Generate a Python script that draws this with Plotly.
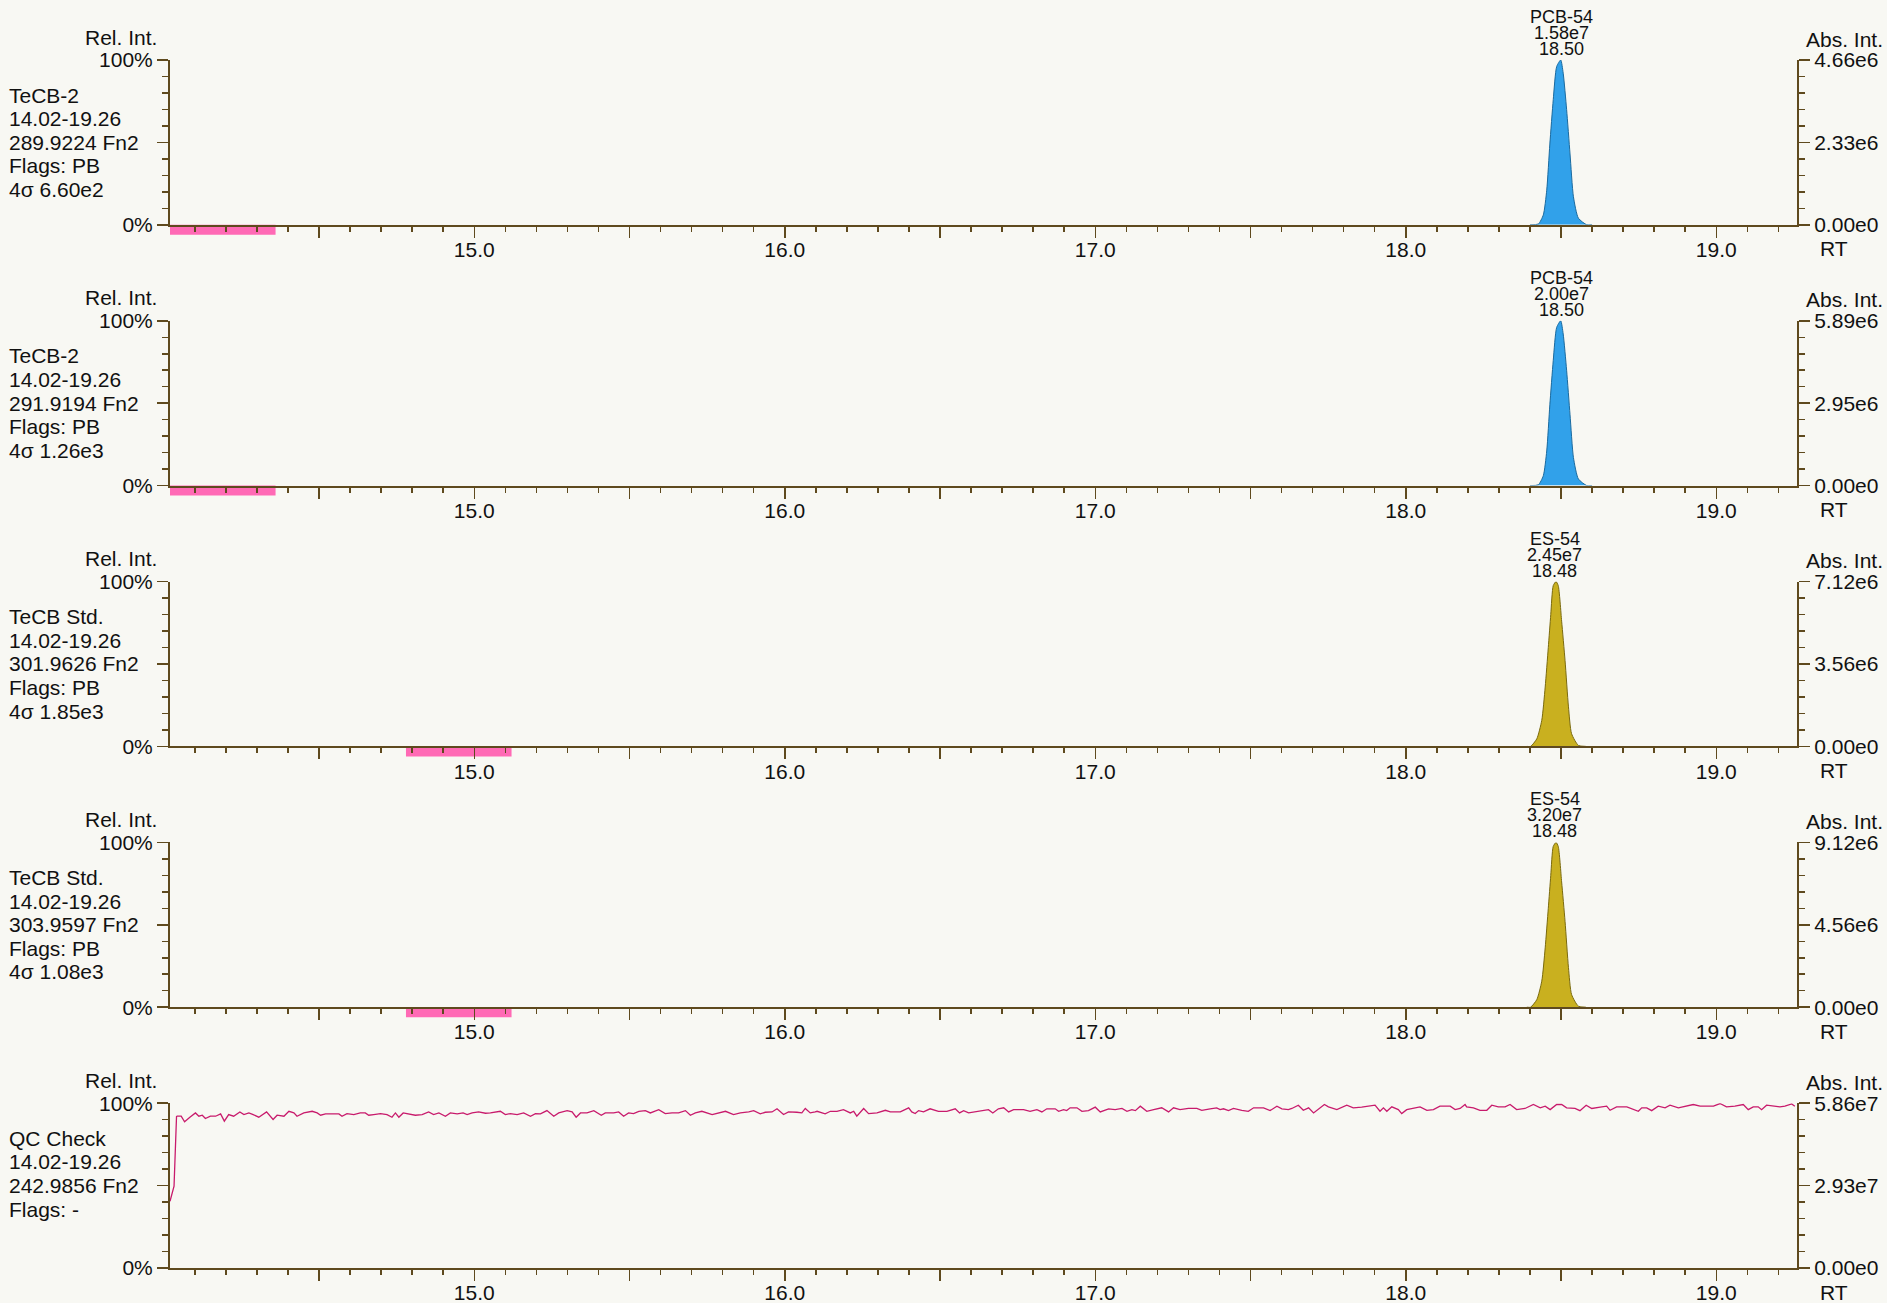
import plotly.graph_objects as go

# ---------------- data ----------------
RT_MIN, RT_MAX = 14.02, 19.26

x_tickvals = [14.5, 15.0, 15.5, 16.0, 16.5, 17.0, 17.5, 18.0, 18.5, 19.0]
x_ticktext = ["", "15.0", "", "16.0", "", "17.0", "", "18.0", "", "19.0"]

rel_tickvals = [0, 50, 100]
rel_ticktext = ["0%", "", "100%"]

panel_name = ["TeCB-2", "TeCB-2", "TeCB Std.", "TeCB Std.", "QC Check"]
panel_window = ["14.02-19.26", "14.02-19.26", "14.02-19.26", "14.02-19.26", "14.02-19.26"]
panel_mass = ["289.9224 Fn2", "291.9194 Fn2", "301.9626 Fn2", "303.9597 Fn2", "242.9856 Fn2"]
panel_flags = ["Flags: PB", "Flags: PB", "Flags: PB", "Flags: PB", "Flags: -"]
panel_noise = ["4σ 6.60e2", "4σ 1.26e3", "4σ 1.85e3", "4σ 1.08e3", ""]

abs_max = [4.66e6, 5.89e6, 7.12e6, 9.12e6, 5.86e7]
abs_ticktext = [
    ["0.00e0", "2.33e6", "4.66e6"],
    ["0.00e0", "2.95e6", "5.89e6"],
    ["0.00e0", "3.56e6", "7.12e6"],
    ["0.00e0", "4.56e6", "9.12e6"],
    ["0.00e0", "2.93e7", "5.86e7"],
]

peak_name = ["PCB-54", "PCB-54", "ES-54", "ES-54"]
peak_area = ["1.58e7", "2.00e7", "2.45e7", "3.20e7"]
peak_rt = [18.50, 18.50, 18.48, 18.48]

# pink integration-window bars below the axis
window_start = [14.02, 14.02, 14.78, 14.78]
window_end = [14.36, 14.36, 15.12, 15.12]

# PCB-54 peak profile (relative intensity %)
pcb_rt = [18.400, 18.427, 18.443, 18.454, 18.464, 18.475, 18.486, 18.499,
          18.507, 18.518, 18.529, 18.540, 18.556, 18.583, 18.600]
pcb_rel = [0, 0.5, 6, 21, 49, 76, 96, 100, 92, 70, 43, 17, 4, 0, 0]

# ES-54 peak profile (relative intensity %)
es_rt = [18.390, 18.402, 18.422, 18.438, 18.449, 18.459, 18.467, 18.475,
         18.484, 18.491, 18.502, 18.513, 18.524, 18.534, 18.556, 18.580]
es_rel = [0, 0, 4.6, 15.8, 36, 60, 80, 97.6, 100, 97.6, 76, 52, 24, 7.7, 0.6, 0]

# QC check trace (relative intensity %), read segment by segment
qc_rt_a = [14.020, 14.033, 14.041,
           14.043, 14.056, 14.067, 14.084, 14.102, 14.113, 14.124, 14.134, 14.150, 14.167,
           14.183, 14.195, 14.209, 14.225, 14.245, 14.258, 14.274, 14.288, 14.306, 14.331,
           14.352, 14.365, 14.387, 14.403, 14.419, 14.429, 14.451, 14.478, 14.494, 14.505,
           14.521, 14.542, 14.564, 14.574, 14.590, 14.612, 14.633, 14.649, 14.660, 14.676,
           14.698, 14.719, 14.735, 14.746, 14.757, 14.771, 14.789, 14.810, 14.832, 14.853,
           14.869, 14.886, 14.907, 14.923, 14.945, 14.964, 14.977, 14.993, 15.014, 15.036,
           15.052]
qc_rel_a = [40.5, 49.6, 91.9,
            92.1, 92.1, 88.7, 91.5, 94.1, 92.1, 92.7, 90.7, 92.1, 92.1,
            93.5, 89.1, 93.1, 92.1, 94.7, 93.1, 94.1, 93.1, 91.5, 94.7,
            90.1, 92.7, 92.1, 95.1, 94.1, 92.1, 94.1, 95.1, 94.1, 92.7,
            93.5, 93.5, 93.5, 92.1, 93.7, 93.1, 94.1, 94.1, 92.7, 93.1,
            93.7, 93.1, 91.5, 94.1, 91.5, 94.1, 93.5, 92.7, 93.1, 94.7,
            93.1, 94.1, 92.1, 94.1, 93.5, 94.1, 93.1, 94.1, 94.7, 93.9,
            94.1]

qc_rt_b = [15.084, 15.100, 15.116, 15.138, 15.159, 15.181, 15.197, 15.213, 15.234, 15.256,
           15.272, 15.299, 15.315, 15.328, 15.342, 15.363, 15.385, 15.409, 15.422, 15.449,
           15.465, 15.481, 15.497, 15.513, 15.530, 15.551, 15.567, 15.594, 15.615, 15.637,
           15.658, 15.680, 15.696, 15.712, 15.733, 15.766, 15.787, 15.809, 15.835, 15.857,
           15.884, 15.900, 15.921, 15.937, 15.959, 15.975, 15.996, 16.012, 16.039, 16.055,
           16.066, 16.082, 16.098]
qc_rel_b = [95.1, 93.1, 93.7, 93.1, 94.1, 92.1, 93.7, 93.5, 95.5, 92.1,
            94.1, 95.5, 94.7, 91.5, 94.1, 94.1, 95.5, 92.7, 94.1, 94.1,
            94.7, 92.1, 94.1, 93.7, 95.1, 95.5, 94.1, 96.1, 93.7, 94.1,
            94.1, 95.5, 92.7, 94.1, 95.1, 93.1, 94.1, 95.1, 93.1, 94.1,
            94.7, 95.5, 93.5, 94.5, 94.7, 96.6, 93.1, 94.7, 94.5, 94.1,
            96.8, 94.1, 94.7]

qc_rt_c = [16.104, 16.130, 16.147, 16.168, 16.189, 16.211, 16.222, 16.232, 16.254, 16.270,
           16.297, 16.324, 16.340, 16.372, 16.399, 16.409, 16.420, 16.431, 16.447, 16.468,
           16.495, 16.522, 16.549, 16.563, 16.576, 16.592, 16.619, 16.640, 16.656, 16.670,
           16.688, 16.705, 16.721, 16.737, 16.769, 16.790, 16.812, 16.828, 16.844, 16.871,
           16.882, 16.898, 16.908, 16.919, 16.941, 16.957, 16.978, 17.000, 17.016, 17.043,
           17.064, 17.086, 17.102, 17.118, 17.129]
qc_rel_c = [95.1, 93.5, 95.1, 95.1, 96.1, 94.1, 95.1, 92.1, 96.8, 93.7,
            94.1, 95.7, 94.7, 94.7, 97.2, 94.7, 93.7, 95.5, 94.7, 96.6,
            95.1, 95.1, 96.6, 94.1, 95.5, 94.1, 95.1, 95.5, 96.1, 94.1,
            96.6, 97.2, 94.7, 96.1, 96.1, 95.1, 96.1, 94.7, 96.6, 96.6,
            95.1, 96.1, 95.5, 97.2, 97.2, 95.1, 95.5, 97.6, 94.7, 96.6,
            96.1, 96.8, 95.1, 96.1, 95.5]

qc_rt_d = [17.145, 17.166, 17.188, 17.214, 17.236, 17.252, 17.273, 17.300, 17.327, 17.343,
           17.370, 17.391, 17.402, 17.413, 17.429, 17.445, 17.472, 17.493, 17.510, 17.542,
           17.563, 17.585, 17.601, 17.622, 17.633, 17.654, 17.670, 17.687, 17.703, 17.719,
           17.738, 17.751, 17.778, 17.810, 17.831, 17.858, 17.880, 17.901, 17.917, 17.928,
           17.939, 17.955, 17.976, 17.987, 18.003, 18.025, 18.046, 18.068, 18.089, 18.110,
           18.143, 18.159, 18.175, 18.191]
qc_rel_d = [98.2, 95.1, 96.1, 97.2, 94.7, 97.2, 96.1, 96.8, 96.8, 95.7,
            96.6, 97.2, 96.1, 96.6, 95.5, 96.8, 95.7, 95.1, 97.2, 97.2,
            95.5, 98.2, 96.6, 96.1, 96.8, 98.8, 95.7, 97.2, 94.1, 96.6,
            99.2, 97.8, 96.1, 98.8, 97.2, 97.6, 98.2, 98.8, 95.1, 97.2,
            95.1, 97.8, 96.1, 93.7, 96.1, 97.2, 97.8, 95.7, 96.1, 98.2,
            98.2, 96.1, 96.8, 99.2]

qc_rt_e = [18.196, 18.218, 18.239, 18.261, 18.277, 18.298, 18.320, 18.336, 18.357, 18.384,
           18.411, 18.433, 18.449, 18.465, 18.486, 18.502, 18.518, 18.545, 18.561, 18.581,
           18.599, 18.626, 18.647, 18.658, 18.679, 18.712, 18.733, 18.749, 18.760, 18.776,
           18.792, 18.813, 18.835, 18.851, 18.878, 18.905, 18.926, 18.948, 18.969, 18.991,
           19.012, 19.033, 19.060, 19.087, 19.103, 19.119, 19.135, 19.146, 19.162, 19.184,
           19.205, 19.221, 19.243, 19.253]
qc_rel_e = [97.8, 97.2, 95.7, 95.7, 98.8, 97.8, 97.8, 99.2, 96.1, 96.8,
            99.2, 97.2, 98.2, 96.1, 99.2, 99.2, 97.2, 96.8, 95.5, 98.8,
            96.8, 97.6, 98.2, 95.7, 97.8, 97.8, 96.1, 95.1, 97.2, 97.2,
            95.5, 98.2, 97.2, 98.8, 97.2, 98.2, 99.2, 98.2, 98.2, 98.2,
            99.8, 97.8, 98.2, 99.2, 96.1, 97.8, 97.8, 96.1, 98.8, 98.2,
            97.8, 98.2, 99.6, 98.2]

qc_rt = qc_rt_a + qc_rt_b + qc_rt_c + qc_rt_d + qc_rt_e
qc_rel = qc_rel_a + qc_rel_b + qc_rel_c + qc_rel_d + qc_rel_e

# ---------------- styling ----------------
BG = "#f8f8f3"
AXIS = "#5f4a1e"
TEXT = "#111111"
FONT = "Liberation Sans, Arial, sans-serif"
FS = 21
BLUE_FILL, BLUE_LINE = "#31a1ea", "#1b6a9e"
GOLD_FILL, GOLD_LINE = "#c9b01f", "#7a6a0e"
PINK = "#ff6ab5"
QC_LINE = "#c81b6c"

W, H = 1887, 1303
M_L, M_R, M_T, M_B = 169.5, 90.3, 60, 35
AREA_H = H - M_T - M_B
PANEL_STEP, PANEL_H = 260.8, 164.8

fig = go.Figure()

peak_sets = [(pcb_rt, pcb_rel, BLUE_FILL, BLUE_LINE),
             (pcb_rt, pcb_rel, BLUE_FILL, BLUE_LINE),
             (es_rt, es_rel, GOLD_FILL, GOLD_LINE),
             (es_rt, es_rel, GOLD_FILL, GOLD_LINE)]

annotations = []
shapes = []

def ann(text, xref, x, yref, y, xanchor="center", xshift=0, yshift=0, size=FS):
    annotations.append(dict(text=text, xref=xref, x=x, yref=yref, y=y,
                            xanchor=xanchor, yanchor="middle", xshift=xshift,
                            yshift=yshift, showarrow=False,
                            font=dict(family=FONT, size=size, color=TEXT)))

for i in range(5):
    n = i + 1
    xa = "x" if n == 1 else f"x{n}"
    ya = "y" if n == 1 else f"y{n}"
    ya2 = f"y{n + 5}"
    top_px = M_T + PANEL_STEP * i
    d_top = (H - M_B - top_px) / AREA_H
    d_bot = max(0.0, (H - M_B - top_px - PANEL_H) / AREA_H)

    if i < 4:
        rts, rels, fc, lc = peak_sets[i]
        fig.add_trace(go.Scatter(x=rts, y=rels, xaxis=xa, yaxis=ya, mode="lines",
                                 line=dict(color=lc, width=1, shape="spline", smoothing=0.6),
                                 fill="tozeroy", fillcolor=fc, hoverinfo="skip",
                                 showlegend=False))
    else:
        fig.add_trace(go.Scatter(x=qc_rt, y=qc_rel, xaxis=xa, yaxis=ya, mode="lines",
                                 line=dict(color=QC_LINE, width=1.3), hoverinfo="skip",
                                 showlegend=False))
    # carrier for the absolute-intensity axis
    fig.add_trace(go.Scatter(x=[RT_MIN], y=[0], xaxis=xa, yaxis=ya2, mode="markers",
                             marker=dict(opacity=0), hoverinfo="skip", showlegend=False))

    common_tick = dict(showline=True, linecolor=AXIS, linewidth=2, ticks="outside",
                       tickcolor=AXIS, tickwidth=1.5, showgrid=False, zeroline=False,
                       tickfont=dict(family=FONT, size=FS, color=TEXT), fixedrange=True)

    fig.update_layout(**{
        ("xaxis" if n == 1 else f"xaxis{n}"): dict(
            domain=[0, 1], range=[RT_MIN, RT_MAX], anchor=ya,
            tickmode="array", tickvals=x_tickvals, ticktext=x_ticktext, ticklen=11,
            ticklabelstandoff=-6,
            minor=dict(ticks="outside", ticklen=5, tickwidth=1.5, tickcolor=AXIS,
                       tick0=14.0, dtick=0.1, showgrid=False),
            **common_tick),
        ("yaxis" if n == 1 else f"yaxis{n}"): dict(
            domain=[d_bot, d_top], range=[0, 100], anchor=xa,
            tickmode="array", tickvals=rel_tickvals, ticktext=rel_ticktext, ticklen=11,
            minor=dict(ticks="outside", ticklen=6, tickwidth=1.5, tickcolor=AXIS,
                       tick0=0, dtick=10, showgrid=False),
            **common_tick),
        f"yaxis{n + 5}": dict(
            overlaying=ya, side="right", anchor=xa, range=[0, abs_max[i]],
            tickmode="array", tickvals=[0, abs_max[i] / 2, abs_max[i]],
            ticktext=abs_ticktext[i], ticklen=11,
            minor=dict(ticks="outside", ticklen=6, tickwidth=1.5, tickcolor=AXIS,
                       tick0=0, dtick=abs_max[i] / 10, showgrid=False),
            **common_tick),
    })

    xd = f"{xa} domain"
    yd = f"{ya} domain"
    # axis captions
    ann("Rel. Int.", xd, 0, yd, 1, xanchor="right", xshift=-11, yshift=23)
    ann("Abs. Int.", xd, 1, yd, 1, xanchor="right", xshift=87.5, yshift=21)
    ann("RT", xd, 1, yd, 0, xanchor="center", xshift=37, yshift=-24)
    # trace info block
    info = [panel_name[i], panel_window[i], panel_mass[i], panel_flags[i], panel_noise[i]]
    for k, line in enumerate(info):
        if line:
            ann(line, xd, 0, yd, 1, xanchor="left", xshift=-163, yshift=-(35 + 23.6 * k))
    # peak labels and integration windows
    if i < 4:
        for k, line in enumerate([peak_name[i], peak_area[i], f"{peak_rt[i]:.2f}"]):
            ann(line, xa, peak_rt[i], yd, 1, size=18, yshift=43 - 16 * k)
        shapes.append(dict(type="rect", xref=xa, yref=yd, x0=window_start[i],
                           x1=window_end[i], y0=-10 / PANEL_H, y1=0, fillcolor=PINK,
                           line=dict(width=0), layer="below"))

fig.update_layout(
    width=W, height=H,
    margin=dict(l=M_L, r=M_R, t=M_T, b=M_B, autoexpand=False),
    paper_bgcolor=BG, plot_bgcolor=BG,
    font=dict(family=FONT, size=FS, color=TEXT),
    showlegend=False,
    annotations=annotations,
    shapes=shapes,
)

fig.write_html("out.html",
               config={"displayModeBar": False, "staticPlot": True},
               post_script="document.body.style.margin='0';document.body.style.background='%s';" % BG)
